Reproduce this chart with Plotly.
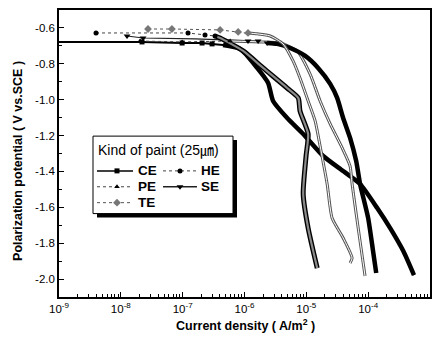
import plotly.graph_objects as go

# ---- data (current density A/m^2, potential V vs SCE) ----
ce_x = [1e-9, 2.2e-8, 9.8e-8, 2.06e-7, 2.99e-7, 4.5e-7, 8.5e-7, 1.6e-6, 2.41e-6, 2.9e-6, 4.9e-6,
        8.9e-6, 1.87e-5, 3.94e-5, 7.4e-5, 1.4e-4, 2.27e-4, 3.7e-4, 5.5e-4]
ce_y = [-0.678, -0.678, -0.684, -0.684, -0.689, -0.695, -0.717, -0.823, -0.907, -1.007, -1.102,
        -1.191, -1.314, -1.398, -1.470, -1.604, -1.716, -1.844, -1.978]

he_x = [3.97e-9, 1.22e-7, 2.3e-7, 3.34e-7, 4.03e-7, 9.5e-7, 2.0e-6, 4.9e-6, 7.4e-6, 7.9e-6,
        1.07e-5, 9.9e-6, 8.9e-6, 1.07e-5, 1.5e-5]
he_y = [-0.628, -0.628, -0.639, -0.645, -0.656, -0.728, -0.823, -0.935, -0.990, -1.063,
        -1.191, -1.314, -1.526, -1.716, -1.939]

pe_x = [2.05e-8, 9.8e-8, 5.85e-7, 1.79e-6, 3.77e-6, 7.1e-6, 1.15e-5, 1.67e-5, 2.43e-5, 3.8e-5,
        5.1e-5, 5.5e-5, 6.9e-5, 8.9e-5]
pe_y = [-0.673, -0.678, -0.673, -0.678, -0.684, -0.728, -0.857, -1.007, -1.135, -1.269,
        -1.370, -1.470, -1.716, -1.983]

se_x = [1.26e-8, 2.29e-8, 1.59e-7, 5.85e-7, 1.14e-6, 1.66e-6, 2.32e-6, 3.37e-6, 5.47e-6, 9.6e-6,
        1.55e-5, 2.43e-5, 3.15e-5, 3.94e-5, 5.1e-5, 6.4e-5, 7.4e-5, 1.0e-4, 1.2e-4, 1.35e-4]
se_y = [-0.645, -0.656, -0.661, -0.667, -0.673, -0.673, -0.684, -0.689, -0.712, -0.756,
        -0.823, -0.912, -0.990, -1.102, -1.213, -1.342, -1.470, -1.660, -1.844, -1.966]

te_x = [2.75e-8, 6.7e-8, 4.03e-7, 7.9e-7, 1.14e-6, 1.6e-6, 2.6e-6, 4.2e-6, 6.1e-6, 7.9e-6,
        1.07e-5, 1.39e-5, 1.67e-5, 2.17e-5, 2.61e-5, 3.94e-5, 5.5e-5, 5.1e-5]
te_y = [-0.606, -0.606, -0.611, -0.622, -0.628, -0.633, -0.645, -0.689, -0.784, -0.879,
        -1.007, -1.119, -1.258, -1.470, -1.660, -1.771, -1.883, -1.911]

series_names = ["CE", "HE", "PE", "SE", "TE"]
x_tick_vals = [1e-9, 1e-8, 1e-7, 1e-6, 1e-5, 1e-4, 1e-3]
x_tick_text = ["10<sup>-9</sup>", "10<sup>-8</sup>", "10<sup>-7</sup>", "10<sup>-6</sup>",
               "10<sup>-5</sup>", "10<sup>-4</sup>", "10<sup>-3</sup>"]
y_tick_vals = [-2.0, -1.8, -1.6, -1.4, -1.2, -1.0, -0.8, -0.6]
y_tick_text = ["-2.0", "-1.8", "-1.6", "-1.4", "-1.2", "-1.0", "-0.8", "-0.6"]

# ---- styles ----
styles = {
    "CE": dict(x=ce_x, y=ce_y, mk=[1, 2, 3, 4], dense=5, sym="square", msize=5, mcol="black",
               thin=dict(color="black", width=2), under=dict(color="black", width=4.5), over=None),
    "HE": dict(x=he_x, y=he_y, mk=[0, 1, 2, 3], dense=3, sym="circle", msize=5, mcol="black",
               thin=dict(color="#444", width=1, dash="dot"), under=dict(color="black", width=5),
               over=dict(color="#8a8a8a", width=2.2)),
    "PE": dict(x=pe_x, y=pe_y, mk=[0, 1, 2], dense=2, sym="triangle-up", msize=5, mcol="black",
               thin=dict(color="#444", width=1, dash="dot"), under=dict(color="#555", width=3),
               over=dict(color="white", width=1)),
    "SE": dict(x=se_x, y=se_y, mk=[0, 1, 4, 5, 6], dense=6, sym="triangle-down", msize=6, mcol="black",
               thin=dict(color="#222", width=1.2), under=dict(color="black", width=4.5), over=None),
    "TE": dict(x=te_x, y=te_y, mk=[0, 1, 2, 3, 4], dense=4, sym="diamond", msize=6, mcol="#777",
               thin=dict(color="#555", width=1, dash="dot"), under=dict(color="#555", width=3),
               over=dict(color="white", width=1)),
}

fig = go.Figure()
for name in series_names:
    s = styles[name]
    fig.add_trace(go.Scatter(x=s["x"], y=s["y"], mode="lines", line=s["thin"],
                             showlegend=False, hoverinfo="skip"))
for name in series_names:
    s = styles[name]
    xs, ys = s["x"][s["dense"]:], s["y"][s["dense"]:]
    fig.add_trace(go.Scatter(x=xs, y=ys, mode="lines", line=dict(s["under"], shape="spline", smoothing=0.6),
                             showlegend=False, hoverinfo="skip"))
    if s["over"]:
        fig.add_trace(go.Scatter(x=xs, y=ys, mode="lines", line=dict(s["over"], shape="spline", smoothing=0.6),
                                 showlegend=False, hoverinfo="skip"))
for name in series_names:
    s = styles[name]
    fig.add_trace(go.Scatter(x=[s["x"][i] for i in s["mk"]], y=[s["y"][i] for i in s["mk"]],
                             mode="markers", marker=dict(symbol=s["sym"], size=s["msize"], color=s["mcol"]),
                             showlegend=False, hoverinfo="skip"))

# ---- manual legend (paper-like overlay axes) ----
W, H = 440, 345
L, R, T, B = 59, 10, 8, 48
pw, ph = W - L - R, H - T - B
def u(px): return (px - L) / pw
def v(py): return 1 - (py - T) / ph

legend_rows = {"CE": (0, 170), "HE": (1, 170), "PE": (0, 186), "SE": (1, 186), "TE": (0, 202)}
col_line = [(97, 133, 117, 136), (163, 197, 180, 199)]
annotations = []
for name in series_names:
    s = styles[name]
    c, py = legend_rows[name]
    x0, x1, xm, xt = col_line[c]
    ln = dict(s["thin"])
    if name in ("CE", "SE"):
        ln["width"] = 1.5
    fig.add_trace(go.Scatter(x=[u(x0), u(x1)], y=[v(py), v(py)], mode="lines", line=ln,
                             xaxis="x2", yaxis="y2", showlegend=False, hoverinfo="skip"))
    fig.add_trace(go.Scatter(x=[u(xm)], y=[v(py)], mode="markers",
                             marker=dict(symbol=s["sym"], size=s["msize"], color=s["mcol"]),
                             xaxis="x2", yaxis="y2", showlegend=False, hoverinfo="skip"))
    annotations.append(dict(x=u(xt), y=v(py), xref="paper", yref="paper", text="<b>%s</b>" % name,
                            showarrow=False, xanchor="left", yanchor="middle",
                            font=dict(family="Liberation Sans, Arial", size=13.5, color="black")))

annotations.append(dict(x=u(96), y=v(149), xref="paper", yref="paper",
                        text="Kind of paint (25㎛)", showarrow=False, xanchor="left", yanchor="middle",
                        font=dict(family="Liberation Sans, Arial, Noto Sans CJK KR", size=14, color="black")))
annotations.append(dict(x=u(245), y=v(325), xref="paper", yref="paper",
                        text="<b>Current density ( A/m<sup>2</sup> )</b>", showarrow=False,
                        xanchor="center", yanchor="middle",
                        font=dict(family="Liberation Sans, Arial", size=12.5, color="black")))
annotations.append(dict(x=u(18), y=v(160), xref="paper", yref="paper",
                        text="<b>Polarization potential ( V vs.SCE )</b>", showarrow=False, textangle=-90,
                        xanchor="center", yanchor="middle",
                        font=dict(family="Liberation Sans, Arial", size=12.5, color="black")))

shapes = [
    dict(type="rect", xref="paper", yref="paper", x0=u(97), x1=u(237), y0=v(217), y1=v(139),
         fillcolor="black", line=dict(width=0), layer="below"),
    dict(type="rect", xref="paper", yref="paper", x0=u(93), x1=u(233), y0=v(213), y1=v(135),
         fillcolor="white", line=dict(color="black", width=1), layer="below"),
]

fig.update_layout(
    width=W, height=H, margin=dict(l=L, r=R, t=T, b=B),
    paper_bgcolor="white", plot_bgcolor="rgba(0,0,0,0)", showlegend=False,
    xaxis=dict(type="log", range=[-9, -3], tickvals=x_tick_vals, ticktext=x_tick_text,
               showline=True, linecolor="black", linewidth=1.5, mirror=True,
               ticks="inside", ticklen=5, tickwidth=1, tickcolor="black", showgrid=False, zeroline=False,
               minor=dict(ticks="inside", ticklen=3, tickcolor="black", dtick="D1", showgrid=False),
               tickfont=dict(family="Liberation Sans, Arial", size=11.5, color="black")),
    yaxis=dict(range=[-2.1, -0.5], tickvals=y_tick_vals, ticktext=y_tick_text,
               showline=True, linecolor="black", linewidth=1.5, mirror=True,
               ticks="inside", ticklen=5, tickwidth=1, tickcolor="black", showgrid=False, zeroline=False,
               minor=dict(ticks="inside", ticklen=3, tickcolor="black", dtick=0.1, showgrid=False),
               tickfont=dict(family="Liberation Sans, Arial", size=11.5, color="black")),
    xaxis2=dict(domain=[0, 1], range=[0, 1], overlaying="x", visible=False, fixedrange=True),
    yaxis2=dict(domain=[0, 1], range=[0, 1], overlaying="y", visible=False, fixedrange=True),
    annotations=annotations, shapes=shapes,
)

fig.write_html("out.html")
